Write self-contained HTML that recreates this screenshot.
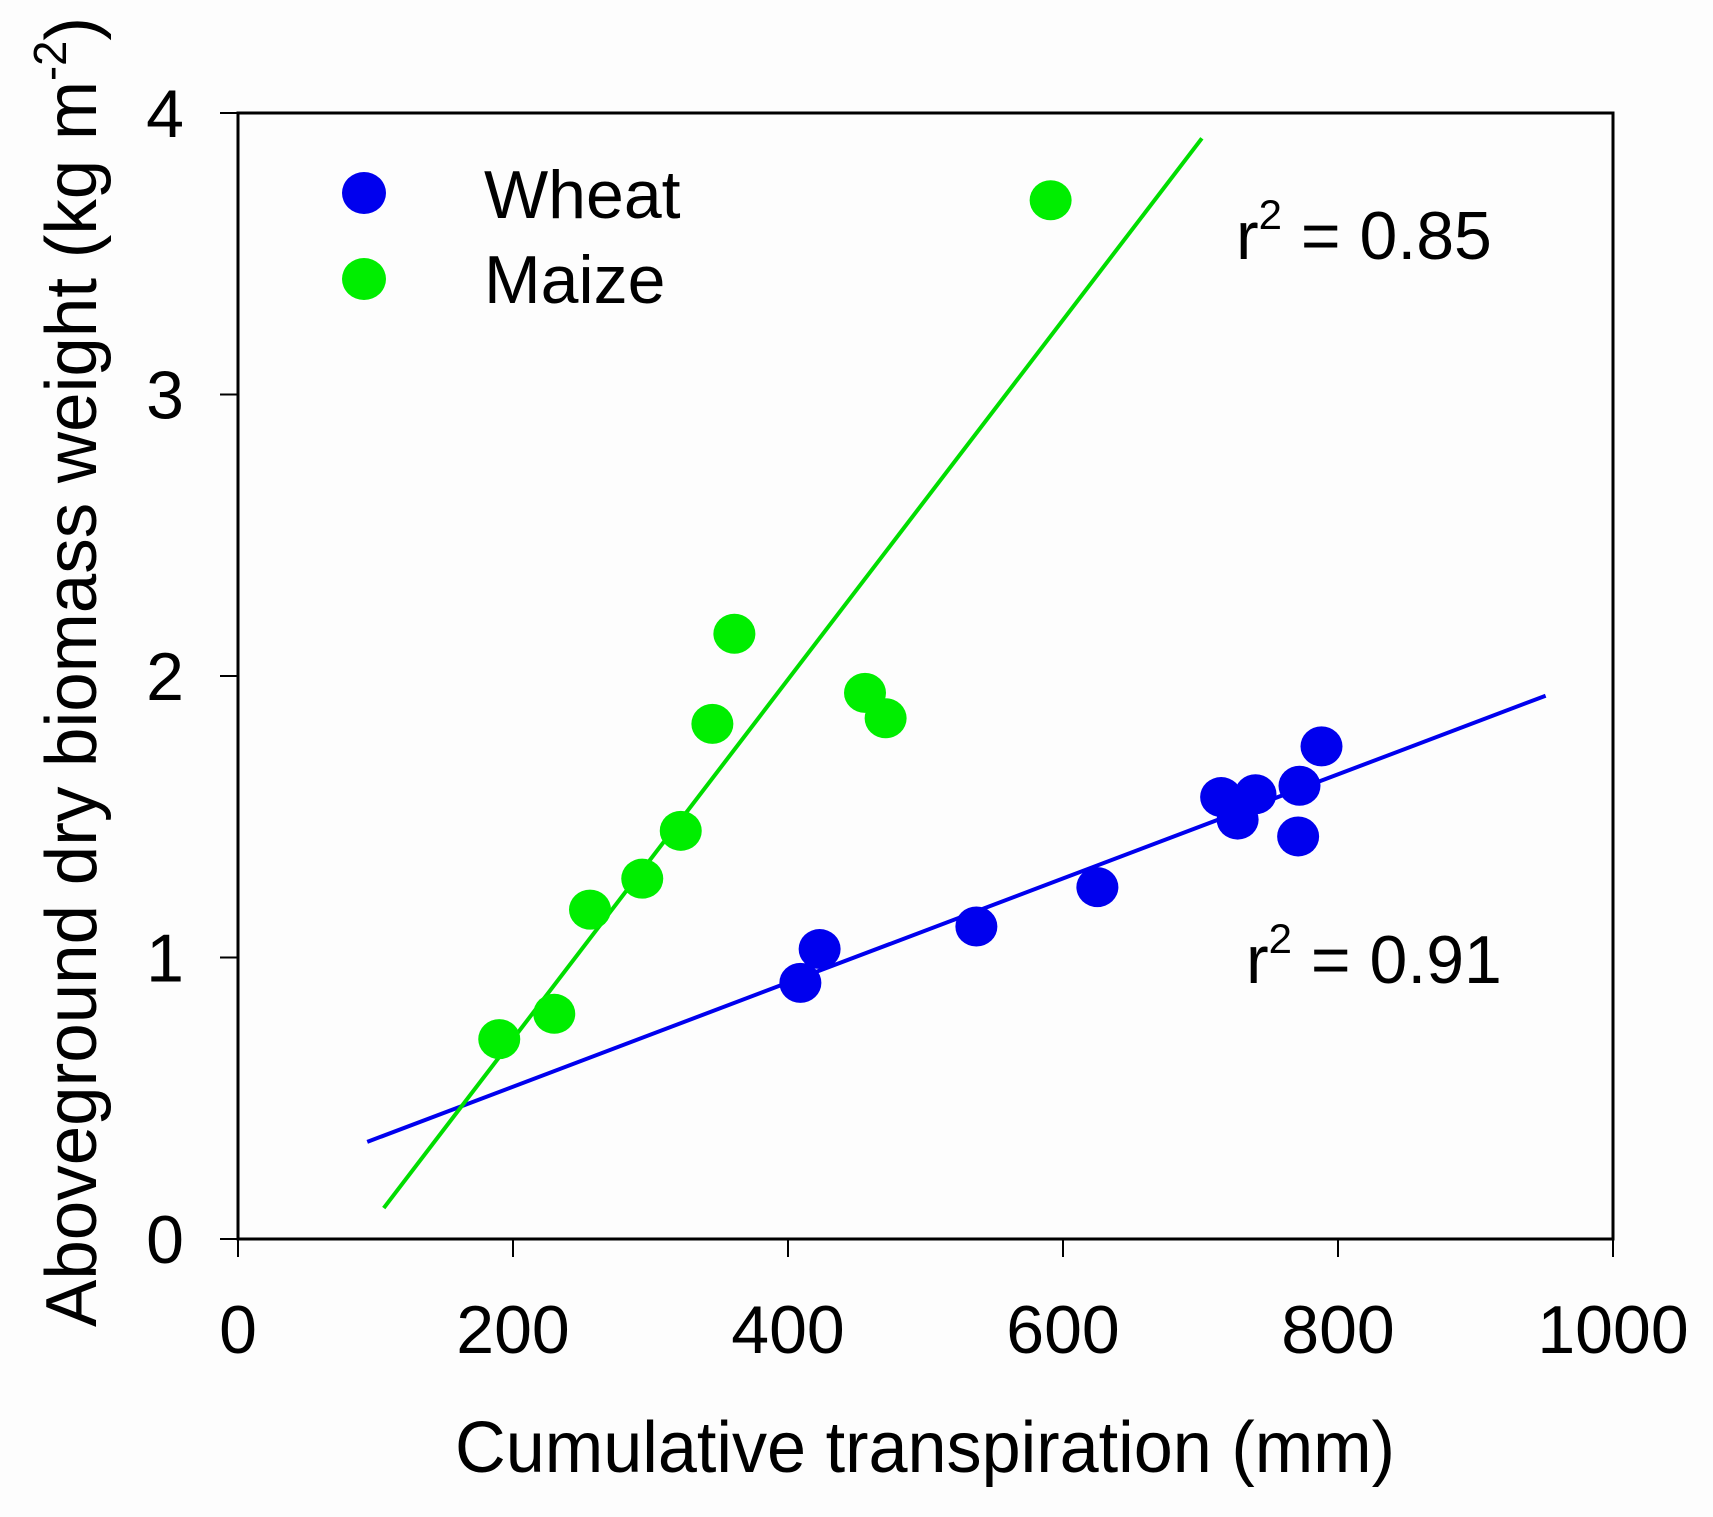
<!DOCTYPE html>
<html><head><meta charset="utf-8"><style>
html,body{margin:0;padding:0;background:#fff;}
svg{display:block;font-family:"Liberation Sans",Arial,sans-serif;}
</style></head><body>
<svg id="chart" width="1713" height="1517" viewBox="0 0 1713 1517" xmlns="http://www.w3.org/2000/svg">
<rect x="0" y="0" width="1713" height="1517" fill="#fdfdfd"/>
<g id="plot"></g>
</svg>
<script>
const xTicks=[0,200,400,600,800,1000];
const yTicks=[0,1,2,3,4];
const wheatX=[409,423,537,625,715,727,740,772,771,788];
const wheatY=[0.91,1.03,1.11,1.25,1.57,1.49,1.58,1.61,1.43,1.75];
const maizeX=[190,230,256,294,322,345,361,456,471,591];
const maizeY=[0.71,0.80,1.17,1.28,1.45,1.83,2.15,1.94,1.85,3.69];
const wheatFitX=[94,951];
const wheatFitY=[0.345,1.93];
const maizeFitX=[106,701];
const maizeFitY=[0.11,3.91];

const L=238,R=1613,T=113,B=1239;
const sx=v=>L+(v-0)/(1000-0)*(R-L);
const sy=v=>B-(v-0)/(4-0)*(B-T);
const NS="http://www.w3.org/2000/svg";
const g=document.getElementById('plot');
function mk(tag,attrs,parent){const e=document.createElementNS(NS,tag);for(const k in attrs)e.setAttribute(k,attrs[k]);(parent||g).appendChild(e);return e;}

// frame
let fr=mk('rect',{x:L,y:T,width:R-L,height:B-T,fill:'none',stroke:'#000','stroke-width':3});



xTicks.forEach(v=>{
  const t=mk('line',{x1:sx(v),x2:sx(v),y1:B,y2:B+18,stroke:'#000','stroke-width':2});
  
  
  const lb=mk('text',{x:sx(v),y:1353,'text-anchor':'middle','font-size':68});
  lb.textContent=v;
  
  
});
yTicks.forEach(v=>{
  const t=mk('line',{x1:L-18,x2:L,y1:sy(v),y2:sy(v),stroke:'#000','stroke-width':2});
  
  
  const lb=mk('text',{x:184,y:sy(v)+24,'text-anchor':'end','font-size':68});
  lb.textContent=v;
  
  
});

// fit lines
let wl=mk('line',{x1:sx(wheatFitX[0]),y1:sy(wheatFitY[0]),x2:sx(wheatFitX[1]),y2:sy(wheatFitY[1]),stroke:'#0000ee','stroke-width':4});


let ml=mk('line',{x1:sx(maizeFitX[0]),y1:sy(maizeFitY[0]),x2:sx(maizeFitX[1]),y2:sy(maizeFitY[1]),stroke:'#00dd00','stroke-width':4});



wheatX.forEach((x,i)=>{
  const c=mk('ellipse',{cx:sx(x),cy:sy(wheatY[i]),rx:21,ry:20,fill:'#0000ee'});
  
  
});
maizeX.forEach((x,i)=>{
  const c=mk('ellipse',{cx:sx(x),cy:sy(maizeY[i]),rx:21,ry:20,fill:'#00ee00'});
  
  
});

// legend
let lw=mk('ellipse',{cx:364,cy:193,rx:22,ry:21,fill:'#0000ee'});


let lm=mk('ellipse',{cx:364,cy:279,rx:22,ry:21,fill:'#00ee00'});


let tw=mk('text',{x:484,y:218,'font-size':68});
tw.textContent='Wheat';


let tm=mk('text',{x:484,y:303,'font-size':68});
tm.textContent='Maize';



function r2(x,y,val,name){
  const t=mk('text',{x:x,y:y,'font-size':68});
  t.innerHTML='r<tspan dy="-30" font-size="42">2</tspan><tspan dy="30"> = '+val+'</tspan>';
  
  
}
r2(1236,259,'0.85','maize-r2-label');
r2(1246,983,'0.91','wheat-r2-label');

let xt=mk('text',{x:925,y:1472,'text-anchor':'middle','font-size':72,textLength:940,lengthAdjust:'spacingAndGlyphs'});
xt.textContent='Cumulative transpiration (mm)';


let yt=mk('text',{x:0,y:0,'text-anchor':'middle','font-size':72,transform:'translate(96,672) rotate(-90)',textLength:1310,lengthAdjust:'spacingAndGlyphs'});
yt.innerHTML='Aboveground dry biomass weight (kg m<tspan dy="-30" font-size="46">-2</tspan><tspan dy="30">)</tspan>';


</script>
</body></html>
